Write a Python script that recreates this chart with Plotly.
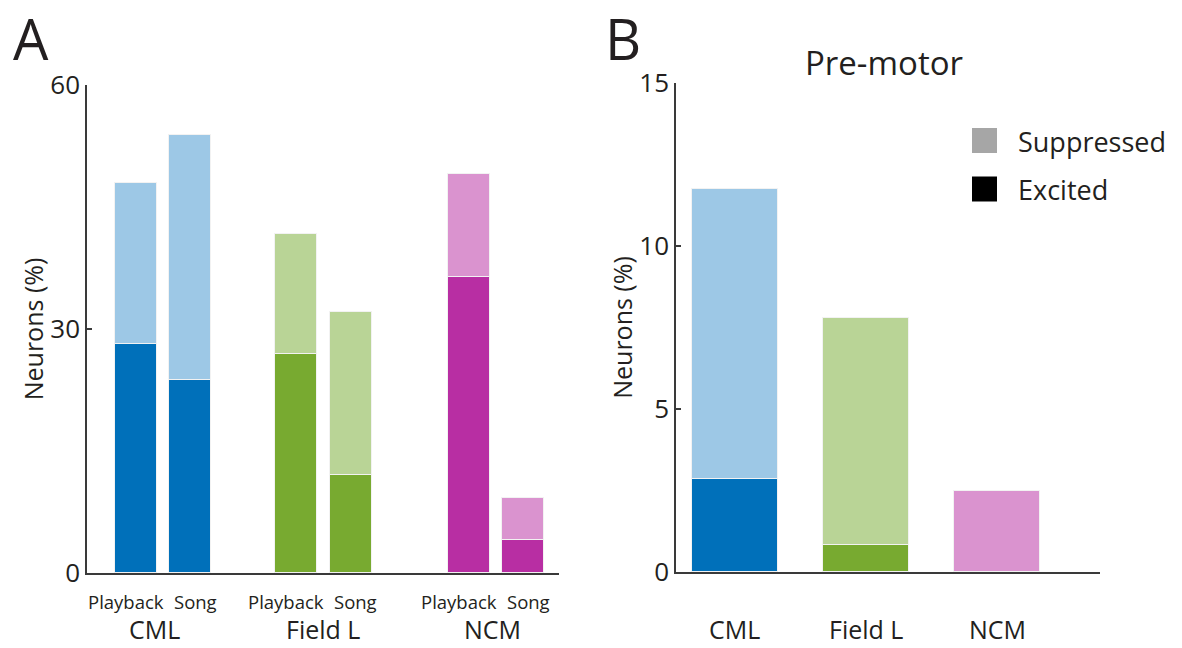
import plotly.graph_objects as go

# ---------------- data ----------------
regions = ["CML", "Field L", "NCM"]
conditions = ["Playback", "Song"]
# Panel A: per region, Playback then Song (% neurons)
a_total = [48.0, 53.9, 41.7, 32.1, 49.1, 9.2]
a_excited = [28.2, 23.7, 26.9, 12.0, 36.4, 4.1]
# Panel B: pre-motor (% neurons)
b_total = [11.75, 7.8, 2.5]
b_excited = [2.85, 0.83, 0.0]
a_ticks = [0, 30, 60]
b_ticks = [0, 5, 10, 15]
legend_names = ["Suppressed", "Excited"]
legend_colors = ["#a6a6a6", "#000000"]
dark = ["#0070ba", "#78aa30", "#b82ea3"]
light = ["#9dc8e6", "#b9d496", "#da93cf"]

FONT = "Open Sans"
TXT = "#231f20"
AX = "#3a3a3a"

# ---------------- layout helpers ----------------
group_pos = [0.0, 0.979, 2.030]   # group centres on panel A axis
region_label_shift = [-8, 0, -3]
pair_off = 0.166
a_x, a_dark, a_light = [], [], []
for g in range(len(regions)):
    for c in range(len(conditions)):
        a_x.append(group_pos[g] + (-pair_off if c == 0 else pair_off))
        a_dark.append(dark[g])
        a_light.append(light[g])
a_supp = [t - e for t, e in zip(a_total, a_excited)]
b_supp = [t - e for t, e in zip(b_total, b_excited)]
b_x = list(range(len(regions)))

fig = go.Figure()
line = dict(color="#f2f2f2", width=1.2)
fig.add_trace(go.Bar(x=a_x, y=a_excited, width=0.256, marker=dict(color=a_dark, line=line),
                     xaxis="x", yaxis="y", showlegend=False, hoverinfo="skip"))
fig.add_trace(go.Bar(x=a_x, y=a_supp, width=0.256, marker=dict(color=a_light, line=line),
                     xaxis="x", yaxis="y", showlegend=False, hoverinfo="skip"))
fig.add_trace(go.Bar(x=b_x, y=b_excited, width=0.656, marker=dict(color=dark, line=line),
                     xaxis="x2", yaxis="y2", showlegend=False, hoverinfo="skip"))
fig.add_trace(go.Bar(x=b_x, y=b_supp, width=0.656, marker=dict(color=light, line=line),
                     xaxis="x2", yaxis="y2", showlegend=False, hoverinfo="skip"))

W, H = 1182, 648
def px_x(p): return p / W
def px_y(p): return 1 - p / H

common_y = dict(showline=True, linecolor=AX, linewidth=1.5, ticks="inside", ticklen=5,
                tickcolor=AX, tickwidth=1.5, showgrid=False, zeroline=False, automargin=False,
                ticklabelstandoff=0,
                tickfont=dict(family=FONT, size=26, color=TXT),
                title=dict(text="Neurons (%)", font=dict(family=FONT, size=25, color=TXT), standoff=0))
common_x = dict(showline=True, linecolor=AX, linewidth=1.5, ticks="", showticklabels=False,
                showgrid=False, zeroline=False, automargin=False)

fig.update_layout(
    width=W, height=H, margin=dict(l=0, r=0, t=0, b=0, pad=0), autosize=False,
    paper_bgcolor="white", plot_bgcolor="white",
    barmode="stack", bargap=0, showlegend=False,
    font=dict(family=FONT, color=TXT),
    xaxis=dict(domain=[px_x(87), px_x(559)], range=[-0.463, 2.415], anchor="y", **common_x),
    yaxis=dict(domain=[px_y(573), px_y(85)], range=[0, 60], tickvals=a_ticks, anchor="x", **common_y),
    xaxis2=dict(domain=[px_x(676), px_x(1100)], range=[-0.45, 2.786], anchor="y2", **common_x),
    yaxis2=dict(domain=[px_y(572), px_y(83)], range=[0, 15], tickvals=b_ticks, anchor="x2", **common_y),
)

ann = []
shapes = []
shifts = [-10, 5]
for i, xv in enumerate(a_x):
    ann.append(dict(x=xv, y=px_y(601), xref="x", yref="paper", text=conditions[i % 2],
                    xshift=shifts[i % 2], yanchor="middle", xanchor="center",
                    showarrow=False, font=dict(family=FONT, size=18.5, color=TXT)))
for g, r in enumerate(regions):
    ann.append(dict(x=group_pos[g], y=0, xref="x", yref="paper", text=r, yanchor="bottom",
                    xshift=region_label_shift[g],
                    showarrow=False, font=dict(family=FONT, size=25, color=TXT)))
    ann.append(dict(x=g, y=0, xref="x2", yref="paper", text=r, yanchor="bottom",
                    showarrow=False, font=dict(family=FONT, size=25, color=TXT)))
ann.append(dict(x=px_x(31), y=1, xref="paper", yref="paper", text="A", showarrow=False,
                xanchor="center", yanchor="top", yshift=2, font=dict(family=FONT, size=56, color=TXT)))
ann.append(dict(x=px_x(623), y=1, xref="paper", yref="paper", text="B", showarrow=False,
                xanchor="center", yanchor="top", yshift=2, font=dict(family=FONT, size=56, color=TXT)))
ann.append(dict(x=px_x(884), y=px_y(63), xref="paper", yref="paper", text="Pre-motor", showarrow=False,
                xanchor="center", yanchor="middle", font=dict(family=FONT, size=33, color=TXT)))

# legend (key squares + labels)
leg_rows = [140.5, 189]
for name, col, yc in zip(legend_names, legend_colors, leg_rows):
    shapes.append(dict(type="rect", xref="paper", yref="paper",
                       x0=px_x(972), x1=px_x(997), y0=px_y(yc - 12.5), y1=px_y(yc + 12.5),
                       fillcolor=col, line=dict(width=0)))
    ann.append(dict(x=px_x(1016), y=px_y(yc + 1), xref="paper", yref="paper", text=name,
                    showarrow=False, xanchor="left", yanchor="middle",
                    font=dict(family=FONT, size=27, color=TXT)))

fig.update_layout(annotations=ann, shapes=shapes)

fig.write_html("out.html")
